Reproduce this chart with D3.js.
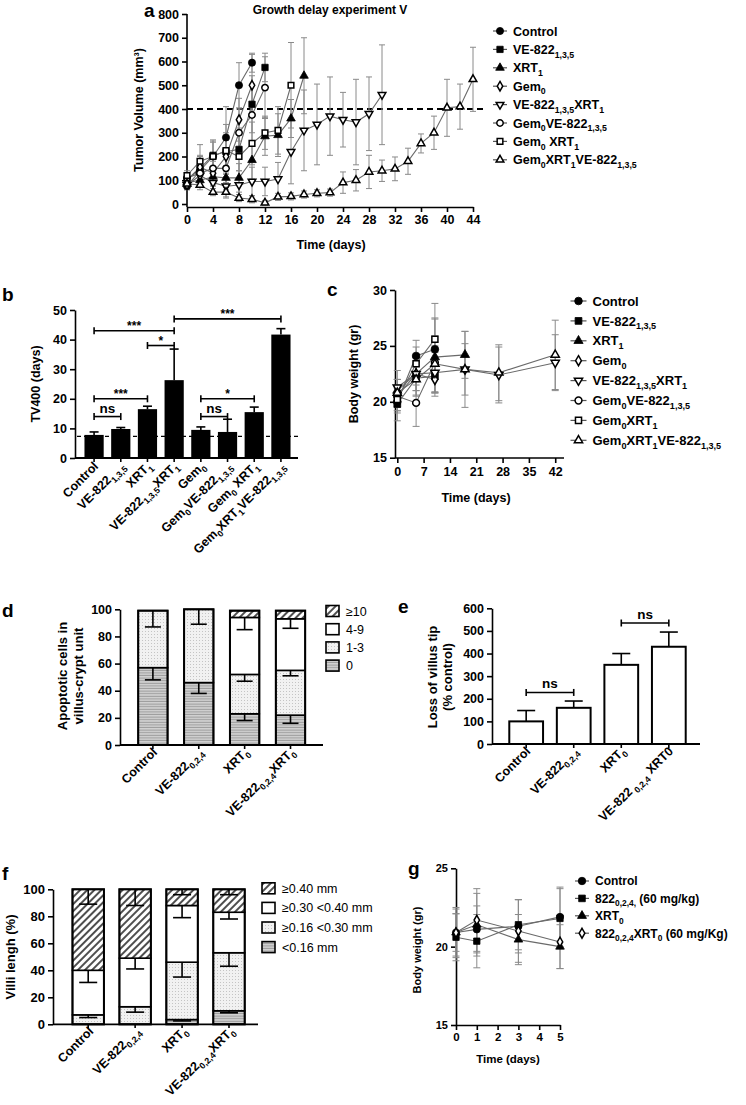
<!DOCTYPE html>
<html>
<head>
<meta charset="utf-8">
<script src="https://cdn.jsdelivr.net/npm/d3@7"></script>
<style>
body { margin: 0; background: #fff; }
</style>
</head>
<body>
<script>
var FONT = "'Liberation Sans', Arial, Helvetica, sans-serif";

// ---------- panel a : tumour growth ----------
var aDays = [0,2,4,6,8,10,12,14,16,18,20,22,24,26,28,30,32,34,36,38,40,42,44];
var aTicks = [0,4,8,12,16,20,24,28,32,36,40,44];
var aNames = ["Control","VE-822_{1,3,5}","XRT_{1}","Gem_{0}","VE-822_{1,3,5}XRT_{1}","Gem_{0}VE-822_{1,3,5}","Gem_{0} XRT_{1}","Gem_{0}XRT_{1}VE-822_{1,3,5}"];
var aControl = [75,140,200,280,500,595];
var aControlErr = [15,40,60,130,95,40];
var aVE822 = [100,150,205,220,230,420,575];
var aVE822Err = [20,50,60,80,90,120,60];
var aXRT = [90,100,115,110,110,185,285,290,360,540];
var aXRTErr = [20,30,40,50,60,80,80,90,80,160];
var aGem = [100,155,130,200,355,500];
var aGemErr = [20,50,50,70,90,130];
var aVEXRT = [80,120,90,75,80,95,95,105,220,310,335,370,355,345,380,460];
var aVEXRTErr = [20,40,40,50,60,60,60,70,135,170,170,165,115,180,155,210];
var aGemVE = [110,130,150,150,300,375,490];
var aGemVEErr = [20,40,60,60,100,130,130];
var aGemXRT = [120,180,200,225,200,255,300,310,500];
var aGemXRTErr = [20,70,70,110,90,90,70,100,180];
var aTriple = [85,80,50,50,25,20,5,30,32,40,45,48,90,100,135,140,148,180,255,300,405,410,525];
var aTripleErr = [15,20,15,20,15,15,10,15,15,15,15,15,45,45,70,45,50,55,40,70,120,95,135];
var aLimit = 400;

// ---------- panel b : TV400 ----------
var bCats = ["Control","VE-822_{1,3,5}","XRT_{1}","VE-822_{1,3,5}XRT_{1}","Gem_{0}","Gem_{0}VE-822_{1,3,5}","Gem_{0} XRT_{1}","Gem_{0}XRT_{1}VE-822_{1,3,5}"];
var bTV400 = [7.8,9.8,16.5,26.3,9.5,8.8,15.5,41.7];
var bErr = [1.0,0.5,1.0,10.5,1.0,4.3,1.7,2.0];
var bRef = 7.3;
var bSigFrom = [0,0,0,2,3,4,4];
var bSigTo = [1,2,3,3,7,5,6];
var bSigAt = [14,20,43,38,47,14,20];
var bSigText = ["ns","***","***","*","***","ns","*"];

// ---------- panel c : body weight ----------
var cNames = ["Control","VE-822_{1,3,5}","XRT_{1}","Gem_{0}","VE-822_{1,3,5}XRT_{1}","Gem_{0}VE-822_{1,3,5}","Gem_{0}XRT_{1}","Gem_{0}XRT_{1}VE-822_{1,3,5}"];
var cDays = [0,5,10,18,27,42];
var cTicks = [0,7,14,21,28,35,42];
var cControl = [20.0,24.1,24.7];
var cControlErr = [0.8,1.4,2.7];
var cVE822 = [19.8,22.1,22.3];
var cVE822Err = [1.5,1.5,1.5];
var cXRT = [21.0,22.5,24.0,24.2];
var cXRTErr = [1.0,1.5,3.5,2.1];
var cGem = [20.5,22.5,22.0];
var cGemErr = [1.0,1.0,1.2];
var cVEXRT = [21.3,22.5,22.6,22.9,22.4,23.5];
var cVEXRTErr = [1.5,1.5,1.8,2.3,2.5,2.5];
var cGemVE = [20.5,19.9,23.5];
var cGemVEErr = [1.5,2.1,1.5];
var cGemXRT = [20.2,23.4,25.6];
var cGemXRTErr = [1.0,1.5,3.2];
var cTriple = [20.8,22.0,23.4,22.9,22.6,24.2];
var cTripleErr = [1.2,1.5,2.5,3.4,2.5,3.1];

// ---------- panel d : apoptotic cells ----------
var dCats = ["Control","VE-822_{0,2,4}","XRT_{0}","VE-822_{0,2,4}XRT_{0}"];
var dKeys = ["\u226510","4-9","1-3","0"];
var d0 = [57,46,23,22];
var d0Err = [9,8,5,6];
var d13 = [42,54,29,33];
var d13Err = [12,11,5,4];
var d49 = [0,0,42,38];
var d49Err = [0,0,9,7];
var d10 = [0,0,5,6];

// ---------- panel e : loss of villus tip ----------
var eCats = ["Control","VE-822_{0,2,4}","XRT_{0}","VE-822_{ 0,2,4} XRT0"];
var eLoss = [100,160,350,430];
var eErr = [48,30,50,65];
var eSigFrom = [0,2];
var eSigTo = [1,3];
var eSigAt = [228,535];

// ---------- panel f : villi length ----------
var fCats = ["Control","VE-822_{0,2,4}","XRT_{0}","VE-822_{0,2,4}XRT_{0}"];
var fKeys = ["\u22650.40 mm","\u22650.30 <0.40 mm","\u22650.16 <0.30 mm","<0.16 mm"];
var fLow = [0,0,3.5,10];
var fLowErr = [0,0,1,1.5];
var fMid = [7,13,42.5,43];
var fMidErr = [2,4,11,10];
var fHigh = [33,36,42,30];
var fHighErr = [9,8,9,5];
var fTop = [60,51,12,17];
var fTopErr = [11,12,4,4];

// ---------- panel g : body weight ----------
var gNames = ["Control","822_{0,2,4,} (60 mg/kg)","XRT_{0}","822_{0,2,4}XRT_{0}  (60 mg/Kg)"];
var gDays = [0,1,3,5];
var gControl = [20.9,21.1,21.3,21.9];
var gControlErr = [1.2,1.5,1.7,1.9];
var g822 = [20.6,20.35,21.4,21.8];
var g822Err = [1.5,1.7,1.6,1.9];
var gXRT = [20.9,21.4,20.45,20.0];
var gXRTErr = [1.6,2.0,1.6,1.4];
var g822XRT = [20.9,21.7,21.0,20.3];
var g822XRTErr = [1.5,2.0,2.0,1.7];

// ================= drawing =================
var svg = d3.select("body").append("svg").attr("width", 746).attr("height", 1105);
var defs = svg.append("defs");

var p = defs.append("pattern").attr("id", "hatch").attr("width", 5).attr("height", 5)
  .attr("patternUnits", "userSpaceOnUse").attr("patternTransform", "rotate(45)");
p.append("rect").attr("width", 5).attr("height", 5).attr("fill", "#fff");
p.append("line").attr("x1", 1).attr("y1", 0).attr("x2", 1).attr("y2", 5).attr("stroke", "#222").attr("stroke-width", 1.6);

p = defs.append("pattern").attr("id", "dots").attr("width", 3).attr("height", 3).attr("patternUnits", "userSpaceOnUse");
p.append("rect").attr("width", 3).attr("height", 3).attr("fill", "#f1f1f1");
p.append("rect").attr("x", 1).attr("y", 1).attr("width", 1).attr("height", 1).attr("fill", "#c4c4c4");

p = defs.append("pattern").attr("id", "hlines").attr("width", 4).attr("height", 2.6).attr("patternUnits", "userSpaceOnUse");
p.append("rect").attr("width", 4).attr("height", 2.6).attr("fill", "#d2d2d2");
p.append("rect").attr("y", 1.6).attr("width", 4).attr("height", 0.8).attr("fill", "#8c8c8c");

function rich(t, str, fs) {
  var parts = str.split(/_\{|\}/);
  var shifted = false;
  parts.forEach(function(part, i) {
    if (part === "") return;
    var ts = t.append("tspan").text(part);
    if (i % 2 === 1) {
      ts.attr("font-size", fs * 0.7);
      if (!shifted) { ts.attr("dy", fs * 0.3); shifted = true; }
    } else {
      ts.attr("font-size", fs);
      if (shifted) { ts.attr("dy", -fs * 0.3); shifted = false; }
    }
  });
}

function label(x, y, str, fs, anchor, rot, weight) {
  var t = svg.append("text").attr("x", x).attr("y", y)
    .attr("font-size", fs).attr("font-weight", weight || "bold")
    .attr("fill", "#000").style("font-family", FONT)
    .attr("text-anchor", anchor || "start");
  if (rot) t.attr("transform", "rotate(" + rot + "," + x + "," + y + ")");
  rich(t, str, fs);
  return t;
}

function styleAxis(g, fs) {
  g.attr("font-family", null).attr("font-size", null);
  g.selectAll(".domain, .tick line").attr("stroke", "#000").attr("stroke-width", 1.6);
  g.selectAll(".tick text").attr("font-size", fs).attr("font-weight", "bold")
    .style("font-family", FONT).attr("fill", "#000");
}

var symTypes = [d3.symbolCircle, d3.symbolSquare, d3.symbolTriangle, d3.symbolDiamond,
                d3.symbolTriangle, d3.symbolCircle, d3.symbolSquare, d3.symbolTriangle];
var symFilled = [true, true, true, false, false, false, false, false];
var symFlip = [false, false, false, false, true, false, false, false];

function marker(g, k, x, y, size) {
  var s = size;
  if (symTypes[k] === d3.symbolTriangle) s = size * 0.8;
  if (symTypes[k] === d3.symbolDiamond) s = size * 0.8;
  if (!symFilled[k]) s = s * 0.8;
  g.append("path")
    .attr("d", d3.symbol().type(symTypes[k]).size(s)())
    .attr("transform", "translate(" + x + "," + y + ")" + (symFlip[k] ? " rotate(180)" : ""))
    .attr("fill", symFilled[k] ? "#000" : "#fff")
    .attr("stroke", "#000").attr("stroke-width", symFilled[k] ? 0.8 : 1.5);
}

function lineChart(x, y, days, series, errs, styles, size, cap) {
  var gE = svg.append("g"), gL = svg.append("g"), gM = svg.append("g");
  series.forEach(function(vals, k) {
    var st = styles[k];
    vals.forEach(function(v, i) {
      var cx = x(days[i]), e = errs[k][i];
      gE.append("line").attr("x1", cx).attr("x2", cx).attr("y1", y(v + e)).attr("y2", y(v - e))
        .attr("stroke", "#8a8a8a").attr("stroke-width", 1);
      [v + e, v - e].forEach(function(w) {
        gE.append("line").attr("x1", cx - cap).attr("x2", cx + cap).attr("y1", y(w)).attr("y2", y(w))
          .attr("stroke", "#8a8a8a").attr("stroke-width", 1);
      });
    });
    gL.append("path").datum(vals)
      .attr("d", d3.line().x(function(d, i) { return x(days[i]); }).y(function(d) { return y(d); }))
      .attr("fill", "none").attr("stroke", "#6a6a6a").attr("stroke-width", 1.1);
    vals.forEach(function(v, i) { marker(gM, st, x(days[i]), y(v), size); });
  });
}

function lineLegend(x0, y0, step, names, fs, size, half) {
  var g = svg.append("g");
  names.forEach(function(n, k) {
    var yy = y0 + k * step;
    g.append("line").attr("x1", x0 - half).attr("x2", x0 + half).attr("y1", yy).attr("y2", yy)
      .attr("stroke", "#555").attr("stroke-width", 1.2);
    marker(g, k, x0, yy, size);
    label(x0 + half + 6, yy + fs * 0.36, n, fs);
  });
}

function bracket(x1, x2, yy, txt, fs) {
  var g = svg.append("g").attr("stroke", "#000").attr("stroke-width", 1.6);
  g.append("line").attr("x1", x1).attr("x2", x2).attr("y1", yy).attr("y2", yy);
  g.append("line").attr("x1", x1).attr("x2", x1).attr("y1", yy - 3.5).attr("y2", yy + 3.5);
  g.append("line").attr("x1", x2).attr("x2", x2).attr("y1", yy - 3.5).attr("y2", yy + 3.5);
  label((x1 + x2) / 2, txt === "ns" ? yy - 4 : yy - 1, txt, fs, "middle");
}

function errUp(cx, y1, y2, cap) {
  var g = svg.append("g").attr("stroke", "#000").attr("stroke-width", 1.6);
  g.append("line").attr("x1", cx).attr("x2", cx).attr("y1", y1).attr("y2", y2);
  g.append("line").attr("x1", cx - cap).attr("x2", cx + cap).attr("y1", y2).attr("y2", y2);
}

// ---------- panel a ----------
(function() {
  var x = d3.scaleLinear().domain([0, 44]).range([187, 473]);
  var y = d3.scaleLinear().domain([0, 800]).range([204, 14]);
  var yAx = svg.append("g").attr("transform", "translate(187,0)")
    .call(d3.axisLeft(y).tickValues(d3.range(0, 801, 100)).tickSize(5).tickSizeOuter(0).tickPadding(3));
  styleAxis(yAx, 12.5);
  yAx.select(".domain").attr("d", "M0,14V207");
  var xAx = svg.append("g").attr("transform", "translate(0,207)")
    .call(d3.axisBottom(x).tickValues(aTicks).tickSize(5).tickSizeOuter(0).tickPadding(3));
  styleAxis(xAx, 12.5);

  svg.append("line").attr("x1", 187).attr("x2", 486).attr("y1", y(aLimit)).attr("y2", y(aLimit))
    .attr("stroke", "#000").attr("stroke-width", 2).attr("stroke-dasharray", "6,4");

  lineChart(x, y, aDays,
    [aControl, aVE822, aXRT, aGem, aVEXRT, aGemVE, aGemXRT, aTriple],
    [aControlErr, aVE822Err, aXRTErr, aGemErr, aVEXRTErr, aGemVEErr, aGemXRTErr, aTripleErr],
    [0,1,2,3,4,5,6,7], 40, 3);

  label(144, 17, "a", 19);
  label(330, 14, "Growth delay experiment V", 12, "middle");
  label(143, 110, "Tumor Volume (mm\u00b3)", 12.5, "middle", -90);
  label(331, 249, "Time (days)", 12.5, "middle");
  lineLegend(500, 31, 18.4, aNames, 12.5, 40, 7);
})();

// ---------- panel b ----------
(function() {
  var x = d3.scaleBand().domain(d3.range(bCats.length)).range([77, 298]).padding(0.28);
  var y = d3.scaleLinear().domain([0, 50]).range([458, 310]);
  var cx = function(i) { return x(i) + x.bandwidth() / 2; };

  svg.append("line").attr("x1", 77).attr("x2", 298).attr("y1", y(bRef)).attr("y2", y(bRef))
    .attr("stroke", "#000").attr("stroke-width", 1.4).attr("stroke-dasharray", "4,3");

  bTV400.forEach(function(v, i) {
    errUp(cx(i), y(v), y(v + bErr[i]), 4.5);
    svg.append("rect").attr("x", x(i)).attr("y", y(v)).attr("width", x.bandwidth())
      .attr("height", y(0) - y(v)).attr("fill", "#000");
  });

  var yAx = svg.append("g").attr("transform", "translate(75,0)")
    .call(d3.axisLeft(y).tickValues([0,10,20,30,40,50]).tickSize(5).tickSizeOuter(0).tickPadding(3));
  styleAxis(yAx, 12.5);
  svg.append("line").attr("x1", 75).attr("x2", 298).attr("y1", 458).attr("y2", 458)
    .attr("stroke", "#000").attr("stroke-width", 1.8);
  bCats.forEach(function(c, i) {
    svg.append("line").attr("x1", cx(i)).attr("x2", cx(i)).attr("y1", 458).attr("y2", 462)
      .attr("stroke", "#000").attr("stroke-width", 1.6);
    label(cx(i) + 5, 467, c, 12.5, "end", -45);
  });

  bSigText.forEach(function(t, k) {
    bracket(cx(bSigFrom[k]), cx(bSigTo[k]), y(bSigAt[k]), t, t === "ns" ? 13.5 : 12);
  });

  label(2, 301, "b", 19);
  label(40, 384, "TV400 (days)", 12.5, "middle", -90);
})();

// ---------- panel c ----------
(function() {
  var x = d3.scaleLinear().domain([0, 45]).range([397.3, 566.5]);
  var y = d3.scaleLinear().domain([15, 30]).range([457.7, 290]);
  var yAx = svg.append("g").attr("transform", "translate(395,0)")
    .call(d3.axisLeft(y).tickValues([15,20,25,30]).tickSize(5).tickSizeOuter(0).tickPadding(3));
  styleAxis(yAx, 12.5);
  var xAx = svg.append("g").attr("transform", "translate(0,458)")
    .call(d3.axisBottom(x).tickValues(cTicks).tickSize(5).tickSizeOuter(0).tickPadding(4));
  styleAxis(xAx, 12.5);
  xAx.select(".domain").attr("d", "M395,0H564");

  lineChart(x, y, cDays,
    [cControl, cVE822, cXRT, cGem, cVEXRT, cGemVE, cGemXRT, cTriple],
    [cControlErr, cVE822Err, cXRTErr, cGemErr, cVEXRTErr, cGemVEErr, cGemXRTErr, cTripleErr],
    [0,1,2,3,4,5,6,7], 46, 3.5);

  label(327, 296, "c", 19);
  label(358, 374, "Body weight (gr)", 12.5, "middle", -90);
  label(476, 502, "Time (days)", 12.5, "middle");
  lineLegend(578.5, 301, 19.9, cNames, 13, 46, 8);
})();

// ---------- stacked bars (d and f) ----------
function stacked(x, y, layers, layerErrs, fills, cap) {
  var cx = function(i) { return x(i) + x.bandwidth() / 2; };
  x.domain().forEach(function(i) {
    var base = 0;
    var tops = [];
    layers.forEach(function(L, k) {
      var v = L[i];
      if (v > 0) {
        svg.append("rect").attr("x", x(i)).attr("y", y(base + v)).attr("width", x.bandwidth())
          .attr("height", y(base) - y(base + v)).attr("fill", fills[k])
          .attr("stroke", "#000").attr("stroke-width", 1.6);
      }
      base += v;
      tops.push(base);
    });
    svg.append("rect").attr("x", x(i)).attr("y", y(base)).attr("width", x.bandwidth())
      .attr("height", y(0) - y(base)).attr("fill", "none").attr("stroke", "#000").attr("stroke-width", 2);
    layers.forEach(function(L, k) {
      var e = layerErrs[k] ? layerErrs[k][i] : 0;
      if (L[i] > 0 && e > 0) {
        var g = svg.append("g").attr("stroke", "#000").attr("stroke-width", 1.6);
        g.append("line").attr("x1", cx(i)).attr("x2", cx(i)).attr("y1", y(tops[k])).attr("y2", y(tops[k] - e));
        g.append("line").attr("x1", cx(i) - cap).attr("x2", cx(i) + cap).attr("y1", y(tops[k] - e)).attr("y2", y(tops[k] - e));
      }
    });
  });
}

function boxLegend(x0, y0, step, keys, fills, fs, weight) {
  keys.forEach(function(k, i) {
    var yy = y0 + i * step;
    svg.append("rect").attr("x", x0).attr("y", yy - 5.5).attr("width", 13).attr("height", 11)
      .attr("fill", fills[i]).attr("stroke", "#000").attr("stroke-width", 1.6);
    label(x0 + 20, yy + fs * 0.36, k, fs, "start", 0, weight);
  });
}

// ---------- panel d ----------
(function() {
  var x = d3.scaleBand().domain(d3.range(dCats.length)).range([121.7, 321.7]).padding(0.36);
  var y = d3.scaleLinear().domain([0, 100]).range([745, 609.3]);
  var fills = ["url(#hlines)", "url(#dots)", "#fff", "url(#hatch)"];
  stacked(x, y, [d0, d13, d49, d10], [d0Err, d13Err, d49Err, null], fills, 8);

  var yAx = svg.append("g").attr("transform", "translate(120,0)")
    .call(d3.axisLeft(y).tickValues([0,20,40,60,80,100]).tickSize(5).tickSizeOuter(0).tickPadding(3));
  styleAxis(yAx, 12.5);
  svg.append("line").attr("x1", 120).attr("x2", 323).attr("y1", 745).attr("y2", 745)
    .attr("stroke", "#000").attr("stroke-width", 1.8);
  dCats.forEach(function(c, i) {
    var cx = x(i) + x.bandwidth() / 2;
    svg.append("line").attr("x1", cx).attr("x2", cx).attr("y1", 745).attr("y2", 749)
      .attr("stroke", "#000").attr("stroke-width", 1.6);
    label(cx + 5, 753, c, 12.5, "end", -45);
  });
  boxLegend(326, 611, 18.2, dKeys, ["url(#hatch)", "#fff", "url(#dots)", "url(#hlines)"], 12.5, "normal");

  label(2, 617, "d", 19);
  label(67, 676, "Apoptotic cells in", 13, "middle", -90);
  label(83, 676, "villus-crypt unit", 13, "middle", -90);
})();

// ---------- panel e ----------
(function() {
  var x = d3.scaleBand().domain(d3.range(eCats.length)).range([495.5, 699.5]).padding(0.29);
  var y = d3.scaleLinear().domain([0, 600]).range([744, 608.3]);
  var cx = function(i) { return x(i) + x.bandwidth() / 2; };
  eLoss.forEach(function(v, i) {
    errUp(cx(i), y(v), y(v + eErr[i]), 9);
    svg.append("rect").attr("x", x(i)).attr("y", y(v)).attr("width", x.bandwidth())
      .attr("height", y(0) - y(v)).attr("fill", "#fff").attr("stroke", "#000").attr("stroke-width", 2);
  });
  var yAx = svg.append("g").attr("transform", "translate(492,0)")
    .call(d3.axisLeft(y).tickValues(d3.range(0, 601, 100)).tickSize(5).tickSizeOuter(0).tickPadding(3));
  styleAxis(yAx, 12.5);
  svg.append("line").attr("x1", 492).attr("x2", 700).attr("y1", 744).attr("y2", 744)
    .attr("stroke", "#000").attr("stroke-width", 1.8);
  eCats.forEach(function(c, i) {
    svg.append("line").attr("x1", cx(i)).attr("x2", cx(i)).attr("y1", 744).attr("y2", 748)
      .attr("stroke", "#000").attr("stroke-width", 1.6);
    label(cx(i) + 5, 752, c, 12.5, "end", -45);
  });
  eSigAt.forEach(function(v, k) {
    bracket(cx(eSigFrom[k]), cx(eSigTo[k]), y(v), "ns", 13.5);
  });
  label(398, 613, "e", 19);
  label(437, 677, "Loss of villus tip", 13, "middle", -90);
  label(452, 677, "(% control)", 13, "middle", -90);
})();

// ---------- panel f ----------
(function() {
  var x = d3.scaleBand().domain(d3.range(fCats.length)).range([57, 260.2]).padding(0.33);
  var y = d3.scaleLinear().domain([0, 100]).range([1024.3, 889.3]);
  var fills = ["url(#hlines)", "url(#dots)", "#fff", "url(#hatch)"];
  stacked(x, y, [fLow, fMid, fHigh, fTop], [fLowErr, fMidErr, fHighErr, fTopErr], fills, 9);

  var yAx = svg.append("g").attr("transform", "translate(53,0)")
    .call(d3.axisLeft(y).tickValues([0,20,40,60,80,100]).tickSize(5).tickSizeOuter(0).tickPadding(3));
  styleAxis(yAx, 13);
  svg.append("line").attr("x1", 53).attr("x2", 258).attr("y1", 1024.3).attr("y2", 1024.3)
    .attr("stroke", "#000").attr("stroke-width", 1.8);
  fCats.forEach(function(c, i) {
    var cx = x(i) + x.bandwidth() / 2;
    svg.append("line").attr("x1", cx).attr("x2", cx).attr("y1", 1024).attr("y2", 1028)
      .attr("stroke", "#000").attr("stroke-width", 1.6);
    label(cx + 6, 1032, c, 12.5, "end", -45);
  });
  boxLegend(262, 888.3, 19.6, fKeys, ["url(#hatch)", "#fff", "url(#dots)", "url(#hlines)"], 12.5, "normal");

  label(2, 880, "f", 19);
  label(15, 957, "Villi lengh (%)", 13, "middle", -90);
})();

// ---------- panel g ----------
(function() {
  var x = d3.scaleLinear().domain([0, 5]).range([456, 560]);
  var y = d3.scaleLinear().domain([15, 25]).range([1025, 868.3]);
  var yAx = svg.append("g").attr("transform", "translate(456,0)")
    .call(d3.axisLeft(y).tickValues([15,20,25]).tickSize(5).tickSizeOuter(0).tickPadding(3));
  styleAxis(yAx, 11);
  var xAx = svg.append("g").attr("transform", "translate(0,1025)")
    .call(d3.axisBottom(x).tickValues([0,1,2,3,4,5]).tickFormat(d3.format("d"))
      .tickSize(5).tickSizeOuter(0).tickPadding(3));
  styleAxis(xAx, 11.5);

  lineChart(x, y, gDays, [gControl, g822, gXRT, g822XRT],
    [gControlErr, g822Err, gXRTErr, g822XRTErr], [0,1,2,3], 40, 3.5);

  label(408, 875, "g", 19);
  label(421, 950, "Body weight (gr)", 11, "middle", -90);
  label(508, 1063, "Time (days)", 11.5, "middle");
  lineLegend(582, 881, 17.4, gNames, 12, 44, 7);
})();
</script>
</body>
</html>
